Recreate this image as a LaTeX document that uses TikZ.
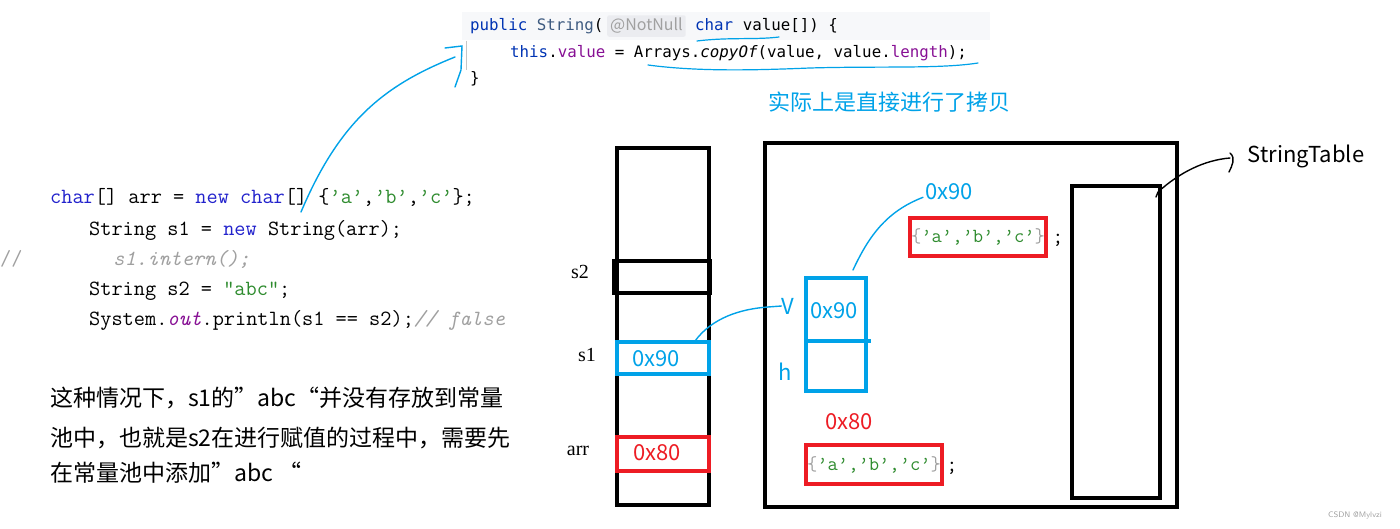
\documentclass[tikz,border=0pt]{standalone}
\usepackage{fontspec}
\setmainfont{Liberation Serif}
\newfontfamily\cjk{Noto Sans CJK SC}
\newfontfamily\idea{DejaVu Sans Mono}
\usepackage{tikz}
\usetikzlibrary{calc}
\definecolor{pblue}{HTML}{00A2E8}
\definecolor{pred}{HTML}{ED1C24}
\definecolor{cgreen}{HTML}{2E8B2E}
\definecolor{ckw}{HTML}{2222CC}
\definecolor{cgrey}{HTML}{A0A0A0}
\definecolor{ikw}{HTML}{0033B3}
\definecolor{icls}{HTML}{3D5A80}
\definecolor{ifld}{HTML}{871094}
\definecolor{ibg}{HTML}{F7F8FA}
\definecolor{nnbg}{HTML}{EBECF0}
\tikzset{
  txt/.style={inner sep=0pt, anchor=base west},
  idecode/.style={txt, font=\idea\fontsize{15.8}{18}\selectfont},
  srccode/.style={txt, font=\ttfamily\fontsize{21.7}{24}\selectfont},
  note/.style={txt, font=\cjk\fontsize{23}{26}\selectfont},
  lbl/.style={inner sep=0pt, font=\fontsize{20}{24}\selectfont},
  addr/.style={inner sep=0pt, font=\cjk\fontsize{22}{26}\selectfont},
  cell/.style={draw, line width=3.5pt, minimum width=92pt, inner sep=0pt},
  heap/.style={draw, line width=3.5pt, inner sep=0pt},
  strobj/.style={draw=pred, line width=3.5pt, inner sep=0pt, minimum width=136pt,
                 font=\ttfamily\fontsize{20}{22}\selectfont, text=cgreen},
  hand/.style={pblue, line width=1.4pt, line cap=round},
  pen/.style={black, line width=1.4pt, line cap=round}
}
\newcommand{\chars}{{\color{cgrey}\{}’a’,’b’,’c’{\color{cgrey}\}}}
\begin{document}
\begin{tikzpicture}[x=1pt,y=-1pt]
  \useasboundingbox (0,0) rectangle (1400,529);

  % source of String(char[])
  \fill[ibg] (462,12) rectangle (990,40);
  \draw[cgrey!60, line width=0.8pt] (466,41) -- (466,70);
  \node[idecode] (ln1) at (470,31) {{\color{ikw}public} {\color{icls}String}(};
  \node[inner sep=3pt, fill=nnbg, rounded corners=2pt, anchor=base west,
        font=\cjk\fontsize{16}{18}\selectfont, text=cgrey] (nn) at (607,31) {@NotNull};
  \node[idecode] (ln1b) at (695,31) {{\color{ikw}char} value[]) \{};
  \node[idecode] (ln2) at (510,58) {{\color{ikw}this}.{\color{ifld}value} = Arrays.\textit{copyOf}(value, value.{\color{ifld}length});};
  \node[idecode] (ln3) at (470,84) {\}};
  \draw[hand, line width=1.2pt] (697,41) .. controls (730,37) and (755,40) .. (779,37);
  \draw[hand, line width=1.2pt] (648,65) .. controls (700,72) and (760,70) .. (810,68)
        .. controls (880,66) and (940,69) .. (978,63);
  \node[txt, font=\cjk\fontsize{22}{26}\selectfont, text=pblue] (copied) at (768,111) {实际上是直接进行了拷贝};

  % user code
  \node[srccode] (c1) at (50,204) {{\color{ckw}char}[] arr = {\color{ckw}new char}[] \{{\color{cgreen}’a’},{\color{cgreen}’b’},{\color{cgreen}’c’}\};};
  \node[srccode] (c2) at (89,236) {String s1 = {\color{ckw}new} String(arr);};
  \node[srccode, text=cgrey] (c3a) at (0,266) {//};
  \node[srccode, text=cgrey] (c3b) at (113,266) {\textit{s1.intern();}};
  \node[srccode] (c4) at (89,296) {String s2 = {\color{cgreen}"abc"};};
  \node[srccode] (c5) at (89,325) {System.{\color{ifld}\textit{out}}.println(s1 == s2);{\color{cgrey}\textit{// false}}};

  \node[note] (n1) at (50,406) {这种情况下，s1的”abc“并没有存放到常量};
  \node[note] (n2) at (50,446) {池中，也就是s2在进行赋值的过程中，需要先};
  \node[note] (n3) at (50,481) {在常量池中添加”abc “};

  % link from new String(arr) to constructor
  \coordinate (ctor) at (301,212);
  \coordinate (brk) at (455,57);
  \draw[hand] (ctor) .. controls (340,120) and (385,85) .. (brk);
  \draw[hand] (445,48) -- (462,46) -- (461,70) -- (455,87);

  % stack
  \node[cell, minimum height=357pt] (stack) at (663,326.5) {};
  \node[cell, line width=4pt, minimum width=96pt, minimum height=32pt] (s2box) at (662,277) {};
  \node[cell, draw=pblue, minimum height=32pt] (s1box) at (663,358) {};
  \node[addr, text=pblue] at (656,359) {0x90};
  \node[cell, draw=pred, minimum height=34pt] (arrbox) at (663,454) {};
  \node[addr, text=pred] at (657,453) {0x80};
  \node[lbl] (s2) at (580,272) {s2};
  \node[lbl] (s1) at (587,355) {s1};
  \node[lbl] (arr) at (578,451) {arr};

  % heap
  \node[heap, minimum width=412pt, minimum height=364pt] (heapbox) at (971,325) {};
  \node[heap, minimum width=88pt, minimum height=312pt] (table) at (1116,342) {};
  \node[font=\cjk\fontsize{22}{26}\selectfont, inner sep=0pt] (tablbl) at (1306,156) {StringTable};

  \node[heap, draw=pblue, minimum width=60pt, minimum height=113pt] (obj) at (836,334.5) {};
  \draw[pblue, line width=3.5pt] (obj.west |- 0,341) -- (871,341);
  \node[addr, text=pblue] (objv) at (834,311) {0x90};
  \node[addr, text=pblue] (V) at (788,306) {V};
  \node[addr, text=pblue] (h) at (785,372) {h};

  \node[addr, text=pblue] (a90) at (949,192) {0x90};
  \node[strobj, minimum height=38pt] (arr90) at (978,237) {\chars};
  \node[srccode, anchor=center] (semi90) at (1058,240) {;};

  \node[addr, text=pred] (a80) at (849,422) {0x80};
  \node[strobj, minimum height=39pt] (arr80) at (874,464.5) {\chars};
  \node[srccode, anchor=center] (semi80) at (952,468) {;};

  % hand-drawn links
  \coordinate (s1top) at (695,341);
  \draw[hand] (s1top) .. controls (712,318) and (740,309) .. (768,307) -- (V.west);
  \coordinate (objtop) at (853,270);
  \draw[hand] (objtop) .. controls (868,238) and (885,212) .. ($(a90.south west)+(-2,-3)$);
  \coordinate (tabtop) at (1156,197);
  \draw[pen] (tabtop) -- (1158,192) .. controls (1180,172) and (1205,160) .. (1230,158);
  \draw[pen] (1230,153) .. controls (1236,158) and (1232,166) .. (1229,172);

  \node[font=\fontsize{8}{9}\selectfont\sffamily, text=cgrey] (mark) at (1355,515) {CSDN @Mylvzi};
\end{tikzpicture}
\end{document}
